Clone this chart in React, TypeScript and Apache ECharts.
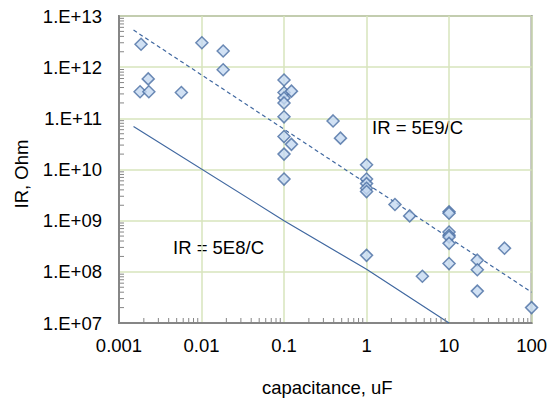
import React, { useEffect, useRef } from "react";
import * as echarts from "echarts";

const capacitance = [0.00185, 0.00226, 0.0018, 0.0023, 0.0057, 0.0101, 0.0183, 0.0183, 0.1, 0.1, 0.123, 0.1, 0.1, 0.1, 0.393, 0.483, 0.1, 0.123, 0.1, 0.1, 1, 1, 1, 1, 1, 1, 2.21, 3.33, 10, 10, 10, 10, 10, 10, 10, 4.75, 22, 22, 22, 47, 100];
const irValues = [2.8e12, 5.9e11, 3.3e11, 3.3e11, 3.2e11, 3.0e12, 2.07e12, 8.9e11, 5.6e11, 3.2e11, 3.4e11, 2.5e11, 2.0e11, 1.07e11, 8.9e10, 4.1e10, 4.4e10, 3.1e10, 2.0e10, 6.5e9, 1.24e10, 6.5e9, 5.3e9, 4.3e9, 3.7e9, 2.1e8, 2.07e9, 1.24e9, 1.49e9, 1.4e9, 6.0e8, 5.2e8, 4.8e8, 3.6e8, 1.45e8, 8.2e7, 1.69e8, 1.1e8, 4.2e7, 2.9e8, 2.0e7];

const fitHighC = [0.0015, 100];
const fitHighIR = [5.3e12, 4.0e7];
const fitLowC = [0.0015, 0.1, 1, 10];
const fitLowIR = [6.9e10, 1.0e9, 1.12e8, 1.0e7];

const xTickLabels = ["0.001", "0.01", "0.1", "1", "10", "100"];
const yTickLabels = ["1.E+07", "1.E+08", "1.E+09", "1.E+10", "1.E+11", "1.E+12", "1.E+13"];
const xDecades = [0.001, 0.01, 0.1, 1, 10];
const yDecades = [1e7, 1e8, 1e9, 1e10, 1e11, 1e12];
const minorMult = [2, 3, 4, 5, 6, 7, 8, 9];

const annotations = [
  { text: "IR = 5E9/C", left: 372, top: 118 },
  { text: "IR = 5E8/C", left: 173, top: 238 },
];

const FONT = "'Liberation Sans', Arial, sans-serif";
const FS = 18.5;
const GRAY = "#868686";
const GRID = "#d7e4bd";

export default function App() {
  const ref = useRef<HTMLDivElement>(null);
  useEffect(() => {
    document.body.style.margin = "0";
    const chart = echarts.init(ref.current!, null, { renderer: "svg" });
    const xTicks: number[][] = [];
    xDecades.forEach((d) => minorMult.forEach((m) => xTicks.push([d * m])));
    const yTicks: number[][] = [];
    yDecades.forEach((d) => minorMult.forEach((m) => yTicks.push([d * m])));

    chart.setOption({
      animation: false,
      backgroundColor: "#ffffff",
      grid: { left: 119, right: 18, top: 16, bottom: 78, show: true, borderColor: GRAY, borderWidth: 2 },
      xAxis: {
        type: "log",
        logBase: 10,
        min: 0.001,
        max: 100,
        axisLine: { show: true, lineStyle: { color: GRAY, width: 2 } },
        axisTick: { show: false },
        splitLine: { show: true, lineStyle: { color: GRID, width: 1.5 } },
        axisLabel: {
          color: "#000",
          fontFamily: FONT,
          fontSize: FS,
          margin: 13,
          formatter: (v: number) => xTickLabels[Math.round(Math.log10(v)) + 3] ?? "",
        },
      },
      yAxis: {
        type: "log",
        logBase: 10,
        min: 1e7,
        max: 1e13,
        axisLine: { show: true, lineStyle: { color: GRAY, width: 2 } },
        axisTick: { show: false },
        splitLine: { show: true, lineStyle: { color: GRID, width: 1.5 } },
        axisLabel: {
          color: "#000",
          fontFamily: FONT,
          fontSize: FS,
          margin: 17,
          formatter: (v: number) => yTickLabels[Math.round(Math.log10(v)) - 7] ?? "",
        },
      },
      graphic: [
        {
          type: "text",
          left: 262,
          top: 378,
          style: { text: "capacitance, uF", font: `${FS}px ${FONT}`, fill: "#000" },
        },
        {
          type: "text",
          x: 21,
          y: 174,
          rotation: Math.PI / 2,
          style: { text: "IR, Ohm", font: `${FS}px ${FONT}`, fill: "#000", align: "center", verticalAlign: "middle" },
        },
        ...annotations.map((a) => ({
          type: "text",
          left: a.left,
          top: a.top,
          style: { text: a.text, font: `${FS}px ${FONT}`, fill: "#000" },
        })),
      ],
      series: [
        {
          type: "custom",
          silent: true,
          data: xTicks,
          renderItem: (_p: any, api: any) => {
            const pt = api.coord([api.value(0), 1e7]);
            return {
              type: "line",
              shape: { x1: pt[0], y1: pt[1], x2: pt[0], y2: pt[1] - 5 },
              style: { stroke: GRAY, lineWidth: 1 },
            };
          },
          z: 5,
        },
        {
          type: "custom",
          silent: true,
          data: yTicks.map((t) => [0.001, t[0]]),
          renderItem: (_p: any, api: any) => {
            const pt = api.coord([0.001, api.value(1)]);
            return {
              type: "line",
              shape: { x1: pt[0], y1: pt[1], x2: pt[0] + 5, y2: pt[1] },
              style: { stroke: GRAY, lineWidth: 1 },
            };
          },
          z: 5,
        },
        {
          type: "line",
          data: fitHighC.map((c, i) => [c, fitHighIR[i]]),
          symbol: "none",
          lineStyle: { color: "#4068a0", width: 1.2, type: [4, 3] },
          z: 3,
        },
        {
          type: "line",
          data: fitLowC.map((c, i) => [c, fitLowIR[i]]),
          symbol: "none",
          lineStyle: { color: "#4068a0", width: 1.2 },
          z: 3,
        },
        {
          type: "scatter",
          data: capacitance.map((c, i) => [c, irValues[i]]),
          symbol: "diamond",
          symbolSize: 12,
          itemStyle: { color: "#c6d9f1", borderColor: "#4a6ea3", borderWidth: 1.5 },
          z: 10,
        },
      ],
    });
    return () => chart.dispose();
  }, []);
  return <div ref={ref} style={{ width: 550, height: 401 }} />;
}
